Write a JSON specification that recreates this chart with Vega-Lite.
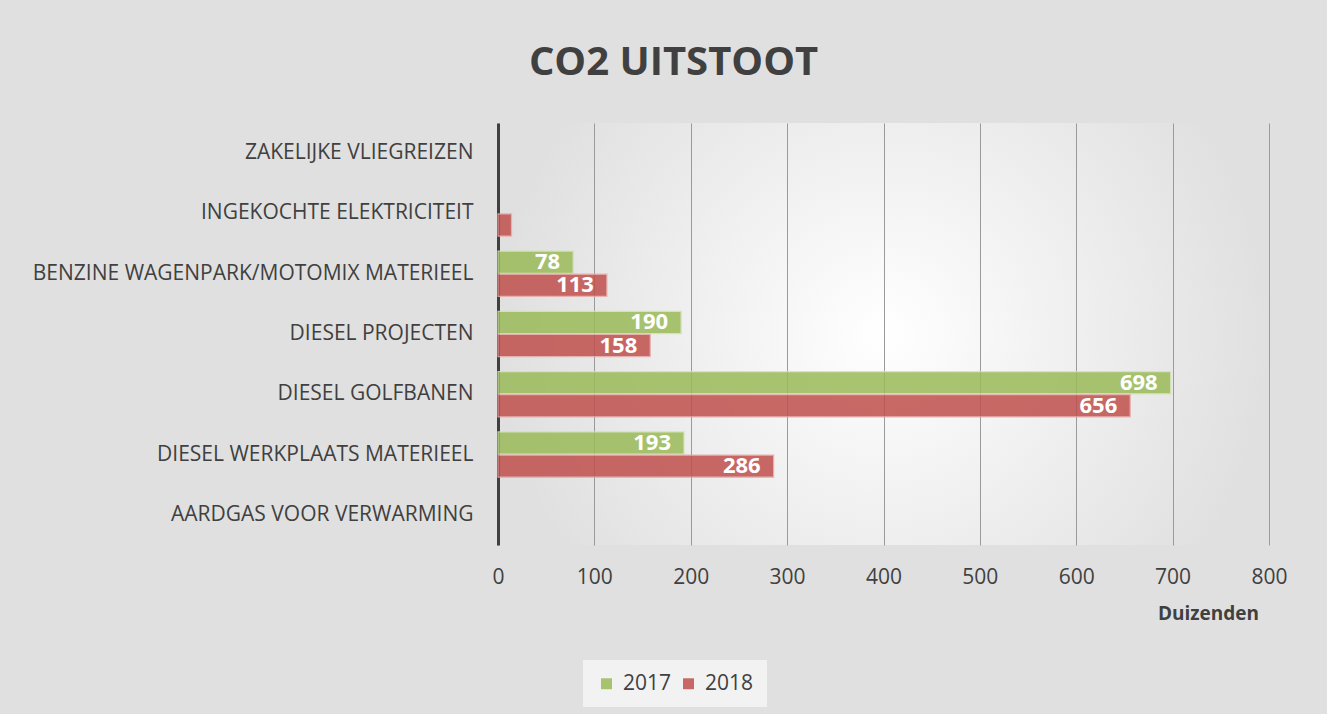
{
  "$schema": "https://vega.github.io/schema/vega-lite/v6.json",
  "width": 771,
  "height": 422,
  "padding": {"left": 32, "top": 43, "right": 41, "bottom": 7},
  "background": "#e0e0e0",
  "view": {
    "stroke": null,
    "fill": {"gradient": "radial", "x1": 0.5, "y1": 0.5, "r1": 0, "x2": 0.5, "y2": 0.5, "r2": 0.5,
      "stops": [{"offset": 0, "color": "#ffffff"}, {"offset": 1, "color": "#e0e0e0"}]}
  },
  "config": {"font": "Open Sans"},
  "title": {
    "text": "CO2 UITSTOOT",
    "fontSize": 40,
    "fontWeight": "bold",
    "color": "#404040",
    "anchor": "middle",
    "frame": "group",
    "dx": -210,
    "offset": 40
  },
  "data": {
    "values": [
      {"categorie": "INGEKOCHTE ELEKTRICITEIT", "jaar": "2018", "waarde": 14},
      {"categorie": "BENZINE WAGENPARK/MOTOMIX MATERIEEL", "jaar": "2017", "waarde": 78},
      {"categorie": "BENZINE WAGENPARK/MOTOMIX MATERIEEL", "jaar": "2018", "waarde": 113},
      {"categorie": "DIESEL PROJECTEN", "jaar": "2017", "waarde": 190},
      {"categorie": "DIESEL PROJECTEN", "jaar": "2018", "waarde": 158},
      {"categorie": "DIESEL GOLFBANEN", "jaar": "2017", "waarde": 698},
      {"categorie": "DIESEL GOLFBANEN", "jaar": "2018", "waarde": 656},
      {"categorie": "DIESEL WERKPLAATS MATERIEEL", "jaar": "2017", "waarde": 193},
      {"categorie": "DIESEL WERKPLAATS MATERIEEL", "jaar": "2018", "waarde": 286}
    ]
  },
  "encoding": {
    "y": {
      "field": "categorie",
      "type": "nominal",
      "sort": null,
      "scale": {
        "domain": ["ZAKELIJKE VLIEGREIZEN", "INGEKOCHTE ELEKTRICITEIT", "BENZINE WAGENPARK/MOTOMIX MATERIEEL", "DIESEL PROJECTEN", "DIESEL GOLFBANEN", "DIESEL WERKPLAATS MATERIEEL", "AARDGAS VOOR VERWARMING"],
        "paddingInner": 0.25,
        "paddingOuter": 0.125
      },
      "axis": {
        "title": null,
        "ticks": false,
        "labelPadding": 25,
        "labelFontSize": 21,
        "labelColor": "#404040",
        "labelLimit": 700,
        "domainColor": "#404040",
        "domainWidth": 3,
        "grid": false
      }
    },
    "yOffset": {"field": "jaar", "type": "nominal", "scale": {"paddingInner": 0.04}},
    "x": {
      "field": "waarde",
      "type": "quantitative",
      "scale": {"domain": [0, 800]},
      "axis": {
        "values": [0, 100, 200, 300, 400, 500, 600, 700, 800],
        "title": "Duizenden",
        "titleFontSize": 19,
        "titleFontWeight": "bold",
        "titleColor": "#404040",
        "titleX": 710,
        "titleY": 68,
        "titleAlign": "center",
        "titleBaseline": "middle",
        "domain": false,
        "ticks": false,
        "labelFlush": false,
        "labelPadding": 21,
        "labelFontSize": 21,
        "labelColor": "#404040",
        "gridColor": "#9a9a9a",
        "gridWidth": 1
      }
    }
  },
  "layer": [
    {
      "mark": {"type": "bar", "opacity": 0.85, "strokeWidth": 1.2},
      "encoding": {
        "color": {
          "field": "jaar",
          "type": "nominal",
          "scale": {"domain": ["2017", "2018"], "range": ["#9bbb59", "#c0504d"]},
          "legend": {
            "title": null,
            "orient": "none",
            "direction": "horizontal",
            "legendX": 85,
            "legendY": 537,
            "fillColor": "#f2f2f2",
            "padding": 13,
            "symbolType": "square",
            "symbolSize": 120,
            "symbolStrokeWidth": 0,
            "symbolOpacity": 0.85,
            "labelFontSize": 21,
            "labelColor": "#404040",
            "columnPadding": 6,
            "labelOffset": 6
          }
        },
        "stroke": {
          "field": "jaar",
          "type": "nominal",
          "scale": {"domain": ["2017", "2018"], "range": ["#d2e2b0", "#e6a9a7"]},
          "legend": null
        }
      }
    },
    {
      "transform": [{"filter": "datum.waarde >= 30"}],
      "mark": {"type": "text", "align": "right", "baseline": "middle", "dx": -13, "fontSize": 22, "fontWeight": "bold", "color": "#ffffff"},
      "encoding": {"text": {"field": "waarde", "type": "quantitative"}}
    }
  ]
}
